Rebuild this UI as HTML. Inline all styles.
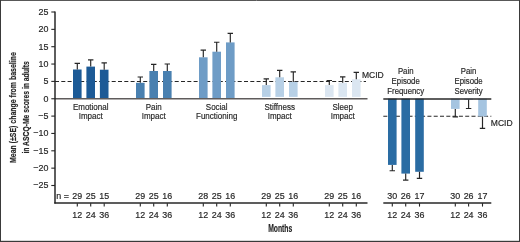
<!DOCTYPE html>
<html><head><meta charset="utf-8"><title>Chart</title>
<style>
html,body{margin:0;padding:0;background:#fff;}
body{width:520px;height:242px;overflow:hidden;font-family:"Liberation Sans",sans-serif;}
svg{display:block;will-change:transform;}
text{font-family:"Liberation Sans",sans-serif;fill:#262626;stroke:#262626;stroke-width:0.18px;}
</style></head><body>
<svg width="520" height="242" viewBox="0 0 520 242">
<defs><filter id="soft" x="0" y="0" width="520" height="242" filterUnits="userSpaceOnUse"><feGaussianBlur stdDeviation="0.32"/></filter></defs>
<rect width="520" height="242" fill="#fff"/>
<g filter="url(#soft)">
<path d="M55 81.5H366" stroke="#262626" stroke-width="1.1" stroke-dasharray="4 2.3" fill="none"/>
<path d="M383.3 116.3H491.3" stroke="#262626" stroke-width="1.1" stroke-dasharray="4 2.3" fill="none"/>
<rect x="73.00" y="69.50" width="8.60" height="29.20" fill="#1b5a96"/>
<rect x="86.40" y="66.60" width="8.60" height="32.10" fill="#1b5a96"/>
<rect x="99.90" y="69.70" width="8.60" height="29.00" fill="#1b5a96"/>
<rect x="136.00" y="82.80" width="8.60" height="15.90" fill="#4a80b0"/>
<rect x="149.40" y="71.00" width="8.60" height="27.70" fill="#4a80b0"/>
<rect x="163.00" y="71.00" width="8.60" height="27.70" fill="#4a80b0"/>
<rect x="199.00" y="57.30" width="8.60" height="41.40" fill="#6e9cc6"/>
<rect x="212.40" y="51.70" width="8.60" height="47.00" fill="#6e9cc6"/>
<rect x="226.00" y="42.40" width="8.60" height="56.30" fill="#6e9cc6"/>
<rect x="262.00" y="85.10" width="8.60" height="11.80" fill="#b7d0e6"/>
<rect x="275.40" y="77.30" width="8.60" height="19.60" fill="#b7d0e6"/>
<rect x="289.00" y="81.90" width="8.60" height="15.00" fill="#b7d0e6"/>
<rect x="325.00" y="85.10" width="8.60" height="11.80" fill="#dbe6f1"/>
<rect x="338.40" y="82.80" width="8.60" height="14.10" fill="#dbe6f1"/>
<rect x="352.00" y="79.30" width="8.60" height="17.60" fill="#dbe6f1"/>
<rect x="388.00" y="98.70" width="8.60" height="66.20" fill="#2b6ca3"/>
<rect x="401.40" y="98.70" width="8.60" height="74.90" fill="#2b6ca3"/>
<rect x="415.20" y="98.70" width="8.60" height="73.10" fill="#2b6ca3"/>
<rect x="451.00" y="98.70" width="8.60" height="10.20" fill="#a5c4e0"/>
<rect x="464.30" y="98.70" width="8.60" height="0.90" fill="#a5c4e0"/>
<rect x="478.20" y="98.70" width="8.60" height="17.80" fill="#a5c4e0"/>
<path d="M77.30 69.50V63.30M74.60 63.30H80.00" stroke="#262626" stroke-width="1.15" fill="none"/>
<path d="M90.70 66.60V59.90M88.00 59.90H93.40" stroke="#262626" stroke-width="1.15" fill="none"/>
<path d="M104.20 69.70V62.90M101.50 62.90H106.90" stroke="#262626" stroke-width="1.15" fill="none"/>
<path d="M140.30 82.80V77.00M137.60 77.00H143.00" stroke="#262626" stroke-width="1.15" fill="none"/>
<path d="M153.70 71.00V64.40M151.00 64.40H156.40" stroke="#262626" stroke-width="1.15" fill="none"/>
<path d="M167.30 71.00V64.00M164.60 64.00H170.00" stroke="#262626" stroke-width="1.15" fill="none"/>
<path d="M203.30 57.30V50.10M200.60 50.10H206.00" stroke="#262626" stroke-width="1.15" fill="none"/>
<path d="M216.70 51.70V42.20M214.00 42.20H219.40" stroke="#262626" stroke-width="1.15" fill="none"/>
<path d="M230.30 42.40V33.30M227.60 33.30H233.00" stroke="#262626" stroke-width="1.15" fill="none"/>
<path d="M266.30 85.10V78.80M263.60 78.80H269.00" stroke="#262626" stroke-width="1.15" fill="none"/>
<path d="M279.70 77.30V70.30M277.00 70.30H282.40" stroke="#262626" stroke-width="1.15" fill="none"/>
<path d="M293.30 81.90V71.80M290.60 71.80H296.00" stroke="#262626" stroke-width="1.15" fill="none"/>
<path d="M329.30 85.10V80.50M326.60 80.50H332.00" stroke="#262626" stroke-width="1.15" fill="none"/>
<path d="M342.70 82.80V76.80M340.00 76.80H345.40" stroke="#262626" stroke-width="1.15" fill="none"/>
<path d="M356.30 79.30V72.40M353.60 72.40H359.00" stroke="#262626" stroke-width="1.15" fill="none"/>
<path d="M392.30 164.90V170.70M389.60 170.70H395.00" stroke="#262626" stroke-width="1.15" fill="none"/>
<path d="M405.70 173.60V180.10M403.00 180.10H408.40" stroke="#262626" stroke-width="1.15" fill="none"/>
<path d="M419.50 171.80V178.40M416.80 178.40H422.20" stroke="#262626" stroke-width="1.15" fill="none"/>
<path d="M455.30 108.90V116.80M452.60 116.80H458.00" stroke="#262626" stroke-width="1.15" fill="none"/>
<path d="M468.60 99.60V108.50M465.90 108.50H471.30" stroke="#262626" stroke-width="1.15" fill="none"/>
<path d="M482.50 116.50V128.40M479.80 128.40H485.20" stroke="#262626" stroke-width="1.15" fill="none"/>
<path d="M55 98.85H367.5" stroke="#5e5b5b" stroke-width="1.5" fill="none"/>
<path d="M383.3 99H491.3" stroke="#262626" stroke-width="1.4" fill="none"/>
<path d="M55 11.5V203.6" stroke="#262626" stroke-width="1.5" fill="none"/>
<path d="M54.3 202.95H367.5M383.3 202.95H491.3" stroke="#262626" stroke-width="1.4" fill="none"/>
<path d="M51.3 12.00H55" stroke="#262626" stroke-width="1.1" fill="none"/>
<text transform="translate(48.40 14.95) scale(0.960 1)" font-size="9.30" text-anchor="end">25</text>
<path d="M51.3 29.35H55" stroke="#262626" stroke-width="1.1" fill="none"/>
<text transform="translate(48.40 32.30) scale(0.960 1)" font-size="9.30" text-anchor="end">20</text>
<path d="M51.3 46.70H55" stroke="#262626" stroke-width="1.1" fill="none"/>
<text transform="translate(48.40 49.65) scale(0.960 1)" font-size="9.30" text-anchor="end">15</text>
<path d="M51.3 64.05H55" stroke="#262626" stroke-width="1.1" fill="none"/>
<text transform="translate(48.40 67.00) scale(0.960 1)" font-size="9.30" text-anchor="end">10</text>
<path d="M51.3 81.40H55" stroke="#262626" stroke-width="1.1" fill="none"/>
<text transform="translate(48.40 84.35) scale(0.960 1)" font-size="9.30" text-anchor="end">5</text>
<path d="M51.3 98.75H55" stroke="#262626" stroke-width="1.1" fill="none"/>
<text transform="translate(48.40 101.70) scale(0.960 1)" font-size="9.30" text-anchor="end">0</text>
<path d="M51.3 116.10H55" stroke="#262626" stroke-width="1.1" fill="none"/>
<text transform="translate(48.40 119.05) scale(0.960 1)" font-size="9.30" text-anchor="end">−5</text>
<path d="M51.3 133.45H55" stroke="#262626" stroke-width="1.1" fill="none"/>
<text transform="translate(48.40 136.40) scale(0.960 1)" font-size="9.30" text-anchor="end">−10</text>
<path d="M51.3 150.80H55" stroke="#262626" stroke-width="1.1" fill="none"/>
<text transform="translate(48.40 153.75) scale(0.960 1)" font-size="9.30" text-anchor="end">−15</text>
<path d="M51.3 168.15H55" stroke="#262626" stroke-width="1.1" fill="none"/>
<text transform="translate(48.40 171.10) scale(0.960 1)" font-size="9.30" text-anchor="end">−20</text>
<path d="M51.3 185.50H55" stroke="#262626" stroke-width="1.1" fill="none"/>
<text transform="translate(48.40 188.45) scale(0.960 1)" font-size="9.30" text-anchor="end">−25</text>
<path d="M77.30 203.2V206.6" stroke="#262626" stroke-width="1.1" fill="none"/>
<text transform="translate(77.30 217.65) scale(0.960 1)" font-size="9.30" text-anchor="middle">12</text>
<text transform="translate(77.30 198.60) scale(0.960 1)" font-size="9.30" text-anchor="middle">29</text>
<path d="M90.70 203.2V206.6" stroke="#262626" stroke-width="1.1" fill="none"/>
<text transform="translate(90.70 217.65) scale(0.960 1)" font-size="9.30" text-anchor="middle">24</text>
<text transform="translate(90.70 198.60) scale(0.960 1)" font-size="9.30" text-anchor="middle">25</text>
<path d="M104.20 203.2V206.6" stroke="#262626" stroke-width="1.1" fill="none"/>
<text transform="translate(104.20 217.65) scale(0.960 1)" font-size="9.30" text-anchor="middle">36</text>
<text transform="translate(104.20 198.60) scale(0.960 1)" font-size="9.30" text-anchor="middle">15</text>
<path d="M140.30 203.2V206.6" stroke="#262626" stroke-width="1.1" fill="none"/>
<text transform="translate(140.30 217.65) scale(0.960 1)" font-size="9.30" text-anchor="middle">12</text>
<text transform="translate(140.30 198.60) scale(0.960 1)" font-size="9.30" text-anchor="middle">29</text>
<path d="M153.70 203.2V206.6" stroke="#262626" stroke-width="1.1" fill="none"/>
<text transform="translate(153.70 217.65) scale(0.960 1)" font-size="9.30" text-anchor="middle">24</text>
<text transform="translate(153.70 198.60) scale(0.960 1)" font-size="9.30" text-anchor="middle">25</text>
<path d="M167.30 203.2V206.6" stroke="#262626" stroke-width="1.1" fill="none"/>
<text transform="translate(167.30 217.65) scale(0.960 1)" font-size="9.30" text-anchor="middle">36</text>
<text transform="translate(167.30 198.60) scale(0.960 1)" font-size="9.30" text-anchor="middle">16</text>
<path d="M203.30 203.2V206.6" stroke="#262626" stroke-width="1.1" fill="none"/>
<text transform="translate(203.30 217.65) scale(0.960 1)" font-size="9.30" text-anchor="middle">12</text>
<text transform="translate(203.30 198.60) scale(0.960 1)" font-size="9.30" text-anchor="middle">28</text>
<path d="M216.70 203.2V206.6" stroke="#262626" stroke-width="1.1" fill="none"/>
<text transform="translate(216.70 217.65) scale(0.960 1)" font-size="9.30" text-anchor="middle">24</text>
<text transform="translate(216.70 198.60) scale(0.960 1)" font-size="9.30" text-anchor="middle">25</text>
<path d="M230.30 203.2V206.6" stroke="#262626" stroke-width="1.1" fill="none"/>
<text transform="translate(230.30 217.65) scale(0.960 1)" font-size="9.30" text-anchor="middle">36</text>
<text transform="translate(230.30 198.60) scale(0.960 1)" font-size="9.30" text-anchor="middle">16</text>
<path d="M266.30 203.2V206.6" stroke="#262626" stroke-width="1.1" fill="none"/>
<text transform="translate(266.30 217.65) scale(0.960 1)" font-size="9.30" text-anchor="middle">12</text>
<text transform="translate(266.30 198.60) scale(0.960 1)" font-size="9.30" text-anchor="middle">29</text>
<path d="M279.70 203.2V206.6" stroke="#262626" stroke-width="1.1" fill="none"/>
<text transform="translate(279.70 217.65) scale(0.960 1)" font-size="9.30" text-anchor="middle">24</text>
<text transform="translate(279.70 198.60) scale(0.960 1)" font-size="9.30" text-anchor="middle">25</text>
<path d="M293.30 203.2V206.6" stroke="#262626" stroke-width="1.1" fill="none"/>
<text transform="translate(293.30 217.65) scale(0.960 1)" font-size="9.30" text-anchor="middle">36</text>
<text transform="translate(293.30 198.60) scale(0.960 1)" font-size="9.30" text-anchor="middle">16</text>
<path d="M329.30 203.2V206.6" stroke="#262626" stroke-width="1.1" fill="none"/>
<text transform="translate(329.30 217.65) scale(0.960 1)" font-size="9.30" text-anchor="middle">12</text>
<text transform="translate(329.30 198.60) scale(0.960 1)" font-size="9.30" text-anchor="middle">29</text>
<path d="M342.70 203.2V206.6" stroke="#262626" stroke-width="1.1" fill="none"/>
<text transform="translate(342.70 217.65) scale(0.960 1)" font-size="9.30" text-anchor="middle">24</text>
<text transform="translate(342.70 198.60) scale(0.960 1)" font-size="9.30" text-anchor="middle">25</text>
<path d="M356.30 203.2V206.6" stroke="#262626" stroke-width="1.1" fill="none"/>
<text transform="translate(356.30 217.65) scale(0.960 1)" font-size="9.30" text-anchor="middle">36</text>
<text transform="translate(356.30 198.60) scale(0.960 1)" font-size="9.30" text-anchor="middle">16</text>
<path d="M392.30 203.2V206.6" stroke="#262626" stroke-width="1.1" fill="none"/>
<text transform="translate(392.30 217.65) scale(0.960 1)" font-size="9.30" text-anchor="middle">12</text>
<text transform="translate(392.30 198.60) scale(0.960 1)" font-size="9.30" text-anchor="middle">30</text>
<path d="M405.70 203.2V206.6" stroke="#262626" stroke-width="1.1" fill="none"/>
<text transform="translate(405.70 217.65) scale(0.960 1)" font-size="9.30" text-anchor="middle">24</text>
<text transform="translate(405.70 198.60) scale(0.960 1)" font-size="9.30" text-anchor="middle">26</text>
<path d="M419.50 203.2V206.6" stroke="#262626" stroke-width="1.1" fill="none"/>
<text transform="translate(419.50 217.65) scale(0.960 1)" font-size="9.30" text-anchor="middle">36</text>
<text transform="translate(419.50 198.60) scale(0.960 1)" font-size="9.30" text-anchor="middle">17</text>
<path d="M455.30 203.2V206.6" stroke="#262626" stroke-width="1.1" fill="none"/>
<text transform="translate(455.30 217.65) scale(0.960 1)" font-size="9.30" text-anchor="middle">12</text>
<text transform="translate(455.30 198.60) scale(0.960 1)" font-size="9.30" text-anchor="middle">30</text>
<path d="M468.60 203.2V206.6" stroke="#262626" stroke-width="1.1" fill="none"/>
<text transform="translate(468.60 217.65) scale(0.960 1)" font-size="9.30" text-anchor="middle">24</text>
<text transform="translate(468.60 198.60) scale(0.960 1)" font-size="9.30" text-anchor="middle">26</text>
<path d="M482.50 203.2V206.6" stroke="#262626" stroke-width="1.1" fill="none"/>
<text transform="translate(482.50 217.65) scale(0.960 1)" font-size="9.30" text-anchor="middle">36</text>
<text transform="translate(482.50 198.60) scale(0.960 1)" font-size="9.30" text-anchor="middle">17</text>
<text transform="translate(56.20 198.60) scale(0.960 1)" font-size="9.30" text-anchor="start">n =</text>
<text transform="translate(90.70 109.60) scale(0.890 1)" font-size="9.00" text-anchor="middle">Emotional</text>
<text transform="translate(90.70 119.40) scale(0.890 1)" font-size="9.00" text-anchor="middle">Impact</text>
<text transform="translate(153.70 109.60) scale(0.890 1)" font-size="9.00" text-anchor="middle">Pain</text>
<text transform="translate(153.70 119.40) scale(0.890 1)" font-size="9.00" text-anchor="middle">Impact</text>
<text transform="translate(216.70 109.60) scale(0.890 1)" font-size="9.00" text-anchor="middle">Social</text>
<text transform="translate(216.70 119.40) scale(0.890 1)" font-size="9.00" text-anchor="middle">Functioning</text>
<text transform="translate(279.70 109.60) scale(0.890 1)" font-size="9.00" text-anchor="middle">Stiffness</text>
<text transform="translate(279.70 119.40) scale(0.890 1)" font-size="9.00" text-anchor="middle">Impact</text>
<text transform="translate(342.70 109.60) scale(0.890 1)" font-size="9.00" text-anchor="middle">Sleep</text>
<text transform="translate(342.70 119.40) scale(0.890 1)" font-size="9.00" text-anchor="middle">Impact</text>
<text transform="translate(405.70 74.40) scale(0.868 1)" font-size="9.00" text-anchor="middle">Pain</text>
<text transform="translate(405.70 84.10) scale(0.868 1)" font-size="9.00" text-anchor="middle">Episode</text>
<text transform="translate(405.70 93.70) scale(0.868 1)" font-size="9.00" text-anchor="middle">Frequency</text>
<text transform="translate(468.60 74.40) scale(0.868 1)" font-size="9.00" text-anchor="middle">Pain</text>
<text transform="translate(468.60 84.10) scale(0.868 1)" font-size="9.00" text-anchor="middle">Episode</text>
<text transform="translate(468.60 93.70) scale(0.868 1)" font-size="9.00" text-anchor="middle">Severity</text>
<text transform="translate(362.00 78.40) scale(0.970 1)" font-size="8.80" text-anchor="start">MCID</text>
<text transform="translate(490.80 126.10) scale(0.970 1)" font-size="8.80" text-anchor="start">MCID</text>
<text transform="translate(280.20 231.70) scale(0.660 1)" font-size="10.30" text-anchor="middle" font-weight="bold" stroke="none">Months</text>
<text transform="translate(16.30 107.60) rotate(-90) scale(0.732 1)" font-size="9.50" text-anchor="middle" font-weight="bold" stroke="none">Mean (±SE) change from baseline</text>
<text transform="translate(29.00 107.40) rotate(-90) scale(0.713 1)" font-size="9.50" text-anchor="middle" font-weight="bold" stroke="none">in ASCQ-Me scores in adults</text>
</g>
<path d="M0.5 0V242M519.5 0V242M0 0.35H520" stroke="#3a3a3a" stroke-width="1" fill="none"/>
<rect x="0" y="240.8" width="520" height="1.2" fill="#3a3a3a"/>
</svg>
</body></html>
